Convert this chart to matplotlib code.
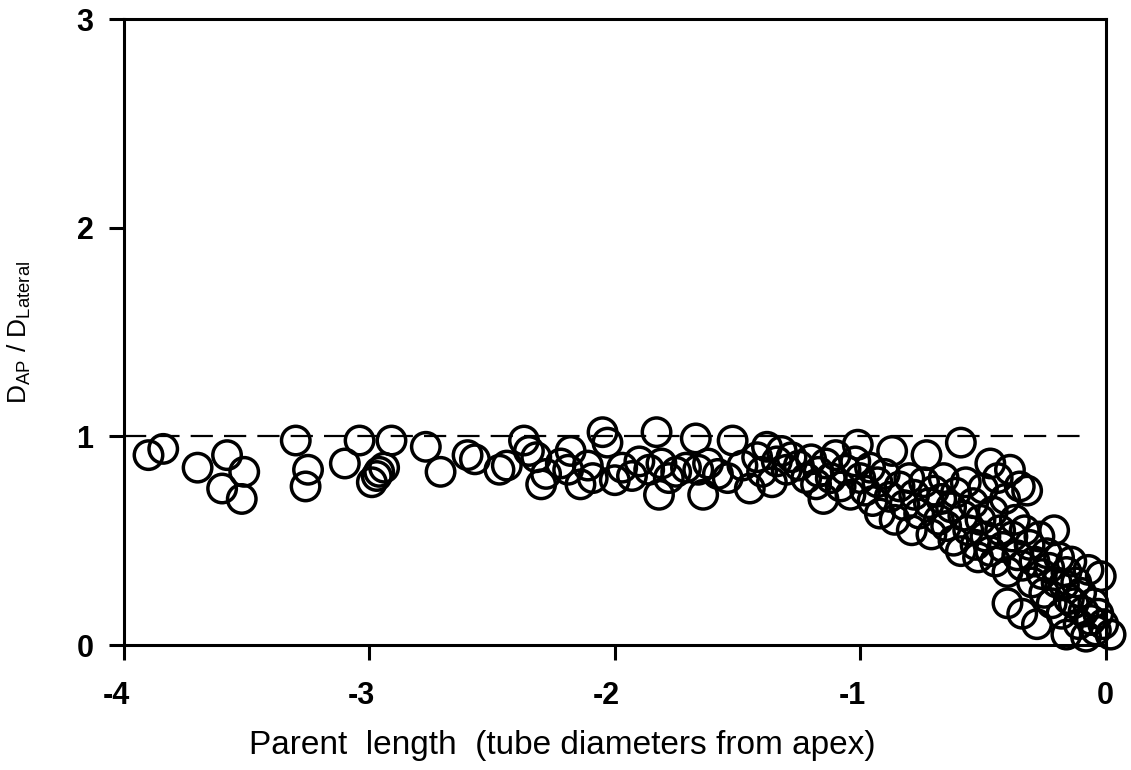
import matplotlib.pyplot as plt
from matplotlib.transforms import ScaledTranslation

plt.rcParams['font.family'] = ['Liberation Sans', 'DejaVu Sans']
plt.rcParams['axes.unicode_minus'] = False
plt.rcParams['mathtext.fontset'] = 'custom'
plt.rcParams['mathtext.rm'] = 'Liberation Sans'

# far from the apex: ratio stays near 1
far_x = [-3.90, -3.84, -3.70, -3.58, -3.60, -3.51, -3.52, -3.30, -3.25, -3.26,
         -3.10, -3.04, -2.99, -2.97, -2.96, -2.94, -2.91, -2.77, -2.71,
         -2.60, -2.57, -2.47, -2.44, -2.37, -2.35, -2.32, -2.30, -2.28, -2.22,
         -2.19, -2.18, -2.14, -2.11, -2.09, -2.05, -2.03, -2.00, -1.97, -1.93,
         -1.90, -1.86, -1.83, -1.82, -1.81, -1.78, -1.75, -1.71, -1.67, -1.66,
         -1.64, -1.62, -1.58, -1.54, -1.52, -1.48, -1.45, -1.42, -1.40, -1.38,
         -1.36, -1.34, -1.32, -1.30, -1.28, -1.25, -1.22, -1.20]
far_y = [0.91, 0.94, 0.85, 0.91, 0.75, 0.83, 0.70, 0.98, 0.84, 0.76,
         0.87, 0.98, 0.78, 0.81, 0.83, 0.85, 0.98, 0.95, 0.83,
         0.91, 0.89, 0.84, 0.86, 0.98, 0.93, 0.90, 0.77, 0.82, 0.87,
         0.84, 0.93, 0.77, 0.86, 0.80, 1.02, 0.97, 0.79, 0.85, 0.81,
         0.88, 0.84, 1.02, 0.72, 0.87, 0.80, 0.83, 0.85, 0.99, 0.84,
         0.72, 0.87, 0.82, 0.80, 0.98, 0.86, 0.75, 0.90, 0.83, 0.95,
         0.78, 0.88, 0.93, 0.84, 0.90, 0.86, 0.80, 0.89]

# near the apex: ratio drops toward 0
near_x = [-1.18, -1.17, -1.15, -1.14, -1.12, -1.10, -1.08, -1.06, -1.04, -1.02,
          -1.01, -1.00, -0.98, -0.96, -0.95, -0.93, -0.92, -0.90, -0.88, -0.87,
          -0.86, -0.84, -0.82, -0.80, -0.79, -0.78, -0.76, -0.74, -0.73, -0.72,
          -0.71, -0.70, -0.68, -0.67, -0.66, -0.65, -0.63, -0.62, -0.61, -0.59,
          -0.59, -0.58, -0.57, -0.56, -0.54, -0.53, -0.52, -0.51, -0.50, -0.49,
          -0.47, -0.47, -0.46, -0.45, -0.44, -0.43, -0.42, -0.41, -0.40, -0.40,
          -0.39, -0.38, -0.37, -0.36, -0.35, -0.34, -0.34, -0.33, -0.32, -0.31,
          -0.30, -0.29, -0.28, -0.27, -0.26, -0.25, -0.24, -0.23, -0.22, -0.21,
          -0.20, -0.19, -0.18, -0.17, -0.16, -0.16, -0.15, -0.14, -0.13, -0.12,
          -0.11, -0.10, -0.09, -0.08, -0.07, -0.06, -0.05, -0.04, -0.03, -0.02,
          -0.01, 0.02]
near_y = [0.77, 0.83, 0.70, 0.87, 0.80, 0.91, 0.76, 0.84, 0.72, 0.88,
          0.96, 0.80, 0.74, 0.85, 0.69, 0.78, 0.63, 0.82, 0.71, 0.93,
          0.60, 0.76, 0.67, 0.80, 0.55, 0.72, 0.63, 0.78, 0.91, 0.68,
          0.53, 0.74, 0.60, 0.70, 0.80, 0.57, 0.66, 0.50, 0.73, 0.97,
          0.45, 0.62, 0.78, 0.55, 0.68, 0.48, 0.42, 0.60, 0.75, 0.52,
          0.87, 0.45, 0.64, 0.40, 0.80, 0.55, 0.47, 0.70, 0.35, 0.20,
          0.84, 0.52, 0.60, 0.43, 0.76, 0.15, 0.38, 0.55, 0.74, 0.48,
          0.30, 0.40, 0.10, 0.52, 0.34, 0.25, 0.44, 0.37, 0.20, 0.55,
          0.30, 0.42, 0.15, 0.29, 0.05, 0.35, 0.22, 0.40, 0.20, 0.30,
          0.10, 0.25, 0.16, 0.04, 0.36, 0.12, 0.20, 0.07, 0.15, 0.33,
          0.10, 0.05]

fig = plt.figure(figsize=(11.31, 7.70), dpi=100)
ax = fig.add_axes([0.1096, 0.1623, 0.868, 0.813])

ax.scatter(far_x + near_x, far_y + near_y, s=420, facecolors='none',
           edgecolors='black', linewidths=2.5, clip_on=False, zorder=3)
ax.axhline(1, xmin=0, xmax=0.98, color='black', lw=1.6, dashes=(10, 5))

ax.set_xlim(-4, 0)
ax.set_ylim(0, 3)
ax.set_xticks([-4, -3, -2, -1, 0])
ax.set_yticks([0, 1, 2, 3])
for s in ax.spines.values():
    s.set_linewidth(2.2)
ax.tick_params(direction='out', length=11, width=2.2, labelsize=22)
ax.tick_params(axis='x', pad=15)
ax.tick_params(axis='y', pad=11)
for lab in ax.get_xticklabels() + ax.get_yticklabels():
    lab.set_fontweight('bold')
# negative labels sit a little left of their ticks in the original
shift = ScaledTranslation(-8 / 100, 0, fig.dpi_scale_trans)
for lab in ax.get_xticklabels()[:-1]:
    lab.set_transform(lab.get_transform() + shift)

ax.set_xlabel('Parent  length  (tube diameters from apex)', fontsize=24)
ax.set_ylabel(r'D$_{\mathrm{AP}}$ / D$_{\mathrm{Lateral}}$', fontsize=19)
ax.xaxis.set_label_coords(0.447, -0.135)
ax.yaxis.set_label_coords(-0.093, 0.5)

fig.savefig('out.png', dpi=100)
